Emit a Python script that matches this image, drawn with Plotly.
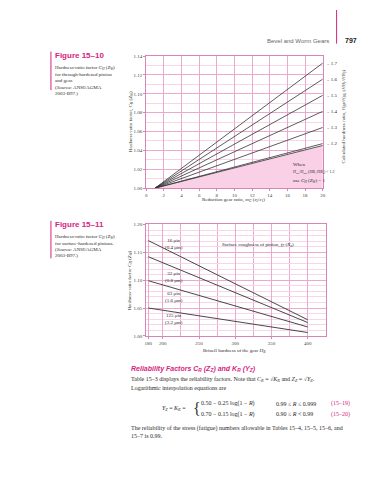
import plotly.graph_objects as go

# ---------------- Figure 15-10 data ----------------
gear_ratio = [1, 20]
ratio_labels = ["1.7", "1.6", "1.5", "1.4", "1.3", "1.2"]
ch_start = [1.000, 1.000, 1.000, 1.000, 1.000, 1.000]
ch_end = [1.1325, 1.1155, 1.0984, 1.0814, 1.0643, 1.0472]
boundary_start = 1.000
boundary_end = 1.0452
x1_ticks = [0, 2, 4, 6, 8, 10, 12, 14, 16, 18, 20]
y1_ticks = [1.00, 1.02, 1.04, 1.06, 1.08, 1.10, 1.12, 1.14]

# ---------------- Figure 15-11 data ----------------
brinell = [180, 400]
roughness_uin = ["16 μin", "32 μin", "63 μin", "125 μin"]
roughness_um = ["(0.4 μm)", "(0.8 μm)", "(1.6 μm)", "(3.2 μm)"]
ch_at_180 = [1.171, 1.142, 1.099, 1.050]
ch_at_400 = [1.029, 1.024, 1.016, 1.006]
label_x = [216, 216, 216, 216]
label_y = [1.1657, 1.105, 1.069, 1.031]
x2_ticks = [180, 200, 250, 300, 350, 400]
y2_ticks = [1.00, 1.05, 1.10, 1.15, 1.20]

W, H = 375, 480
def px(x): return x / W
def py(y): return 1 - y / H

MAG = "#d6247f"
PINK_MAJ = "#eaa9cd"
PINK_MIN = "#f6d7e8"
BORDER = "#d586b6"
FILL = "#f9d0e5"
LINE = "#333333"
TXT = "#2a2a2a"
SERIF = "Liberation Serif"
SANS = "Liberation Sans"

fig = go.Figure()

# shaded region under the 1.2 boundary
fig.add_trace(go.Scatter(
    x=[gear_ratio[0], gear_ratio[1], gear_ratio[1], gear_ratio[0]],
    y=[boundary_start, boundary_end, y1_ticks[0], boundary_start],
    fill="toself", fillcolor=FILL, line=dict(width=0), mode="lines",
    hoverinfo="skip", xaxis="x", yaxis="y"))
fig.add_trace(go.Scatter(x=gear_ratio, y=[boundary_start, boundary_end], mode="lines",
                         line=dict(color=LINE, width=0.8), xaxis="x", yaxis="y"))
for s, e in zip(ch_start, ch_end):
    fig.add_trace(go.Scatter(x=gear_ratio, y=[s, e], mode="lines",
                             line=dict(color=LINE, width=0.8), xaxis="x", yaxis="y"))

for a, b in zip(ch_at_180, ch_at_400):
    fig.add_trace(go.Scatter(x=brinell, y=[a, b], mode="lines",
                             line=dict(color=LINE, width=0.9), xaxis="x2", yaxis="y2"))

tickfont = dict(family=SERIF, size=5, color="#444")
common = dict(showline=True, linecolor=BORDER, linewidth=1, mirror=True,
              ticks="outside", ticklen=2, tickcolor=BORDER, tickfont=tickfont,
              zeroline=False, showgrid=True, gridwidth=0.8)

fig.update_layout(
    width=W, height=H, margin=dict(l=0, r=0, t=0, b=0), autosize=False,
    paper_bgcolor="white", plot_bgcolor="white", showlegend=False,
    xaxis=dict(domain=[px(138), px(317)], anchor="y", range=[0, 20],
               tickvals=x1_ticks, ticktext=[str(v) for v in x1_ticks],
               gridcolor=PINK_MAJ, **common),
    yaxis=dict(domain=[py(180), py(46.5)], anchor="x", range=[1.00, 1.14],
               tickvals=y1_ticks, ticktext=["%.2f" % v for v in y1_ticks],
               gridcolor=PINK_MAJ,
               minor=dict(dtick=0.01, showgrid=True, gridcolor=PINK_MIN, gridwidth=0.8),
               **common),
    xaxis2=dict(domain=[px(138), px(320)], anchor="y2", range=[177, 425],
                tickvals=x2_ticks, ticktext=[str(v) for v in x2_ticks],
                gridcolor=PINK_MAJ,
                minor=dict(tick0=200, dtick=25, showgrid=True, gridcolor=PINK_MAJ, gridwidth=0.8),
                **common),
    yaxis2=dict(domain=[py(329.3), py(216.7)], anchor="x2", range=[1.00, 1.20],
                tickvals=y2_ticks, ticktext=["%.2f" % v for v in y2_ticks],
                gridcolor=PINK_MAJ,
                minor=dict(dtick=0.01, showgrid=True, gridcolor=PINK_MIN, gridwidth=0.8),
                **common),
)

ann = []
def T(x, y, text, size=5, color=TXT, family=SERIF, xanchor="left", angle=0, **kw):
    ann.append(dict(x=px(x), y=py(y), xref="paper", yref="paper", text=text,
                    showarrow=False, xanchor=xanchor, yanchor="middle", textangle=angle,
                    font=dict(size=size, color=color, family=family), **kw))

# header
T(325, 31, "Bevel and Worm Gears", size=6, color="#666", family=SANS, xanchor="right")
T(337, 31, "<b>797</b>", size=7, color="#222", family=SANS)

# captions
T(44, 46, "<b>Figure 15–10</b>", size=8, color=MAG, family=SANS)
cap1 = ["Hardness-ratio factor <i>C<sub>H</sub></i> (<i>Z<sub>W</sub></i>)",
        "for through-hardened pinion", "and gear.",
        "(<i>Source:</i> ANSI/AGMA", "2003-B97.)"]
for i, t in enumerate(cap1):
    T(44, 59 + i * 6.3, t, size=5)
T(44, 217, "<b>Figure 15–11</b>", size=8, color=MAG, family=SANS)
cap2 = ["Hardness-ratio factor <i>C<sub>H</sub></i> (<i>Z<sub>W</sub></i>)",
        "for surface-hardened pinions.",
        "(<i>Source:</i> ANSI/AGMA", "2003-B97.)"]
for i, t in enumerate(cap2):
    T(44, 229 + i * 6.5, t, size=5)

# chart 1 axis texts
T(122, 113, "Hardness-ratio factor, <i>C<sub>H</sub></i> (<i>Z<sub>W</sub></i>)", size=5, xanchor="center", angle=-90)
T(227, 192.5, "Reduction gear ratio, <i>m<sub>G</sub></i> (<i>z</i><sub>2</sub>/<i>z</i><sub>1</sub>)", size=5, xanchor="center")
T(338, 107, "Calculated hardness ratio, <i>H<sub>BP</sub></i>/<i>H<sub>BG</sub></i> (<i>HB</i><sub>1</sub>/<i>HB</i><sub>2</sub>)",
  size=5, xanchor="center", angle=-90)
for lab, e in zip(ratio_labels, ch_end):
    ann.append(dict(x=20, y=e, xref="x", yref="y", text="– " + lab, showarrow=False,
                    xanchor="left", yanchor="middle", xshift=1,
                    font=dict(size=5, color=TXT, family=SERIF)))
T(285, 156, "When", size=5)
T(284, 164, "<i>H<sub>BP</sub></i>/<i>H<sub>BG</sub></i> (<i>HB</i><sub>1</sub>/<i>HB</i><sub>2</sub>) < 1.2", size=4)
T(285, 172.5, "use <i>C<sub>H</sub></i> (<i>Z<sub>W</sub></i>) = 1", size=5)

# chart 2 texts
T(122, 273, "Hardness-ratio factor <i>C<sub>H</sub></i> (<i>Z<sub>W</sub></i>)", size=5, xanchor="center", angle=-90)
T(228, 345, "Brinell hardness of the gear <i>H<sub>B</sub></i>", size=5, xanchor="center")
T(213, 237.5, "Surface roughness of pinion, <i>f<sub>P</sub></i> (<i>R<sub>a</sub></i>)", size=5)
for u, m, lx, ly in zip(roughness_uin, roughness_um, label_x, label_y):
    ann.append(dict(x=lx, y=ly, xref="x2", yref="y2", text=u + "<br>" + m, showarrow=False,
                    xanchor="center", yanchor="middle",
                    font=dict(size=5, color=TXT, family=SERIF)))

# body text
T(121, 363, "<b><i>Reliability Factors C<sub>R</sub> (Z<sub>Z</sub>) and K<sub>R</sub> (Y<sub>Z</sub>)</i></b>",
  size=7, color=MAG, family=SANS)
T(121, 373.5, "Table 15–3 displays the reliability factors. Note that <i>C<sub>R</sub></i> = √<i>K<sub>R</sub></i> and <i>Z<sub>Z</sub></i> = √<i>Y<sub>Z</sub></i>.", size=6)
T(121, 381.5, "Logarithmic interpolation equations are", size=6)
T(152, 403, "<i>Y<sub>Z</sub></i> = <i>K<sub>R</sub></i> =", size=6)
T(183, 403, "{", size=16, color="#333")
T(192, 398, "0.50 − 0.25 log(1 − <i>R</i>)", size=6)
T(192, 408.5, "0.70 − 0.15 log(1 − <i>R</i>)", size=6)
T(268, 398, "0.99 ≤ <i>R</i> ≤ 0.999", size=6)
T(268, 408.5, "0.90 ≤ <i>R</i> < 0.99", size=6)
T(347, 398, "(15–19)", size=6, color=MAG, xanchor="right")
T(347, 408.5, "(15–20)", size=6, color=MAG, xanchor="right")
T(121, 423, "The reliability of the stress (fatigue) numbers allowable in Tables 15–4, 15–5, 15–6, and", size=6)
T(121, 430.5, "15–7 is 0.99.", size=6)

fig.update_layout(annotations=ann, shapes=[
    dict(type="line", xref="paper", yref="paper", x0=px(331), x1=px(331), y0=py(0), y1=py(34),
         line=dict(color=MAG, width=1)),
    dict(type="line", xref="paper", yref="paper", x0=px(41.5), x1=px(41.5), y0=py(42), y1=py(81),
         line=dict(color=MAG, width=1)),
    dict(type="line", xref="paper", yref="paper", x0=px(41.5), x1=px(41.5), y0=py(213), y1=py(251),
         line=dict(color=MAG, width=1)),
])

fig.write_html("out.html")
